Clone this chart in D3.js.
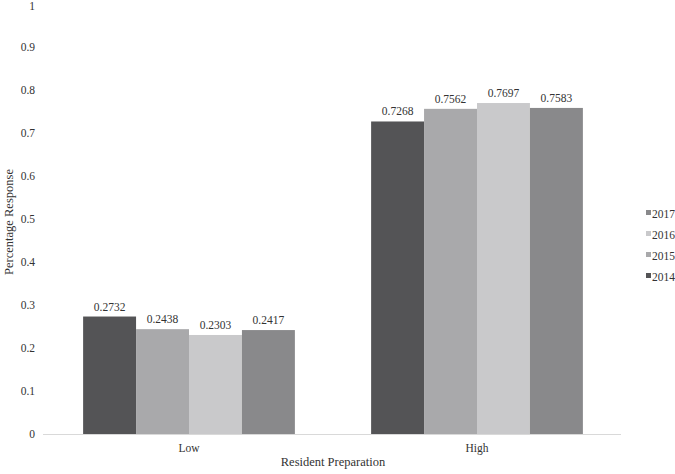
<!DOCTYPE html>
<html>
<head>
<meta charset="utf-8">
<script src="https://cdn.jsdelivr.net/npm/d3@7"></script>
<style>
	body { margin: 0; background: #fff; }
	text { font-family: "Liberation Serif", "Times New Roman", serif; fill: #333333; }
</style>
</head>
<body>
<div id="chart"></div>
<script>

	//----------------------------
	// Data
	//----------------------------

	var categories = ["Low", "High"];
	var years = ["2014", "2015", "2016", "2017"];
	var values2014 = [0.2732, 0.7268];
	var values2015 = [0.2438, 0.7562];
	var values2016 = [0.2303, 0.7697];
	var values2017 = [0.2417, 0.7583];
	var yTicks = [0, 0.1, 0.2, 0.3, 0.4, 0.5, 0.6, 0.7, 0.8, 0.9, 1];
	var colors = ["#545456", "#a9a9ab", "#c9c9cb", "#89898b"];

	var series = [values2014, values2015, values2016, values2017];

	//----------------------------
	// Layout
	//----------------------------

	var totwidth = 675,
		totheight = 474,
		paddingLeft = 45,
		plotRight = 621,
		paddingTop = 4,
		baseY = 434;

	var svg = d3.select("#chart").append("svg")
		.attr("width", totwidth)
		.attr("height", totheight);

	// Scales

	var x0 = d3.scaleBand()
		.domain(categories)
		.range([paddingLeft, plotRight]);

	var x1 = d3.scaleBand()
		.domain(years)
		.range([0, x0.bandwidth()])
		.paddingOuter(0.72)
		.paddingInner(0);

	var y = d3.scaleLinear()
		.domain([0, 1])
		.range([baseY, paddingTop]);

	var col = d3.scaleOrdinal()
		.domain(years)
		.range(colors);

	// Y axis (labels only)

	var yAxis = d3.axisLeft(y)
		.tickValues(yTicks)
		.tickSize(0)
		.tickPadding(0)
		.tickFormat(function(d) { return d3.format("")(d); });

	var gy = svg.append("g")
		.attr("transform", "translate(" + (paddingLeft - 10) + ",0)")
		.call(yAxis);
	gy.select(".domain").remove();
	gy.selectAll("text")
		.attr("font-size", 11.5)
		.style("font-family", "Liberation Serif")
		.attr("fill", "#333333");
	// keep the top label inside the canvas
	gy.selectAll("text").filter(function(d) { return d === 1; })
		.attr("dy", "0.5em");

	// Bars

	var groups = svg.append("g")
		.selectAll("g").data(categories).enter().append("g")
			.attr("transform", function(d) { return "translate(" + x0(d) + ",0)"; });

	groups.selectAll("rect")
		.data(function(d, i) { return years.map(function(yr, j) { return {year: yr, value: series[j][i]}; }); })
		.enter().append("rect")
			.attr("x", function(d) { return x1(d.year); })
			.attr("width", x1.bandwidth())
			.attr("y", function(d) { return y(d.value); })
			.attr("height", function(d) { return baseY - y(d.value); })
			.attr("fill", function(d) { return col(d.year); });

	groups.selectAll("text.lbl")
		.data(function(d, i) { return years.map(function(yr, j) { return {year: yr, value: series[j][i]}; }); })
		.enter().append("text")
			.attr("class", "lbl")
			.attr("x", function(d) { return x1(d.year) + x1.bandwidth() / 2; })
			.attr("y", function(d) { return y(d.value) - 6; })
			.attr("text-anchor", "middle")
			.attr("font-size", 11.5)
			.text(function(d) { return d.value.toFixed(4); });

	// X axis

	svg.append("line")
		.attr("x1", paddingLeft - 2)
		.attr("x2", plotRight)
		.attr("y1", baseY + 0.5)
		.attr("y2", baseY + 0.5)
		.attr("stroke", "#d9d9d9");

	svg.append("g").selectAll("text").data(categories).enter().append("text")
		.attr("x", function(d) { return x0(d) + x0.bandwidth() / 2; })
		.attr("y", baseY + 18)
		.attr("text-anchor", "middle")
		.attr("font-size", 11.5)
		.text(function(d) { return d; });

	// Axis titles

	svg.append("text")
		.attr("x", (paddingLeft + plotRight) / 2)
		.attr("y", 466)
		.attr("text-anchor", "middle")
		.attr("font-size", 12.5)
		.text("Resident Preparation");

	svg.append("text")
		.attr("transform", "translate(13," + 222 + ") rotate(-90)")
		.attr("text-anchor", "middle")
		.attr("font-size", 12.5)
		.text("Percentage Response");

	// Legend (reversed order, 2017 on top)

	var legend = svg.append("g")
		.selectAll("g").data(years.slice().reverse()).enter().append("g")
			.attr("transform", function(d, i) { return "translate(646," + (214 + i * 21) + ")"; });

	legend.append("rect")
		.attr("x", 0)
		.attr("y", -4)
		.attr("width", 5)
		.attr("height", 5)
		.attr("fill", function(d) { return col(d); });

	legend.append("text")
		.attr("x", 6)
		.attr("y", 0)
		.attr("dy", "0.35em")
		.attr("font-size", 11.5)
		.text(function(d) { return d; });

</script>
</body>
</html>
